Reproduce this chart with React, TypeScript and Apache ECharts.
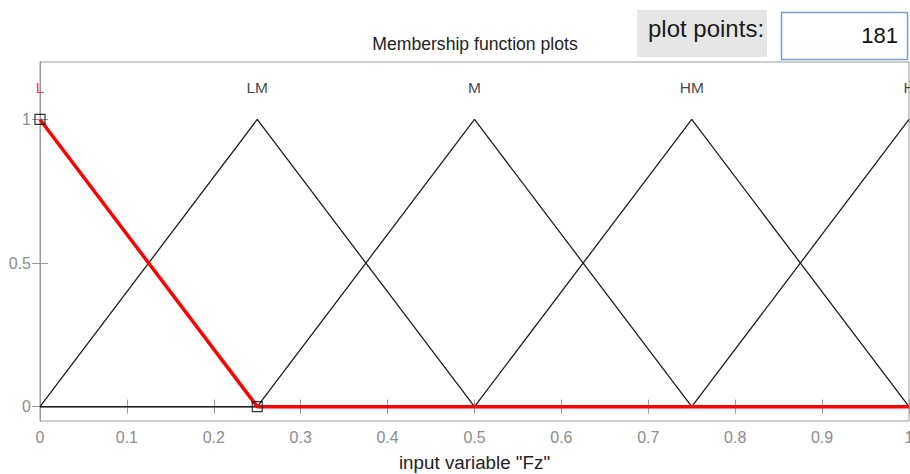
import React, { useEffect, useRef } from "react";
import * as echarts from "echarts";

// Membership function names and label positions
const mfNames = ["L", "LM", "M", "HM", "H"];
const mfPeaks = [0, 0.25, 0.5, 0.75, 1];
const mfLabelY = 1.11;

// Breakpoints of each membership function over the input range [0, 1]
const lX = [0, 0.25, 1];
const lY = [1, 0, 0];
const lmX = [0, 0.25, 0.5, 1];
const lmY = [0, 1, 0, 0];
const mX = [0, 0.25, 0.5, 0.75, 1];
const mY = [0, 0, 1, 0, 0];
const hmX = [0, 0.5, 0.75, 1];
const hmY = [0, 0, 1, 0];
const hX = [0, 0.75, 1];
const hY = [0, 0, 1];

// Selected MF (L) vertex handles
const handleX = [0, 0.25];
const handleY = [1, 0];

const yTicks = [0, 0.5, 1];
const plotPoints = "181";

const zip = (xs: number[], ys: number[]) => xs.map((x, i) => [x, ys[i]]);

export default function App() {
  const ref = useRef<HTMLDivElement>(null);
  useEffect(() => {
    document.body.style.margin = "0";
    const chart = echarts.init(ref.current!, null, { renderer: "svg" });
    const gray = "#9a9a9a";
    const labelGray = "#8c8c8c";
    const font = "Liberation Sans, Arial, sans-serif";
    const black = "#1e1e1e";
    const blackLine = (xs: number[], ys: number[]) => ({
      type: "line",
      data: zip(xs, ys),
      symbol: "none",
      lineStyle: { color: black, width: 1.3 },
      z: 3,
      silent: true,
    });
    chart.setOption({
      animation: false,
      backgroundColor: "#ffffff",
      textStyle: { fontFamily: font },
      grid: {
        left: 40,
        right: 1,
        top: 62,
        bottom: 53,
        containLabel: false,
        outerBoundsMode: "none",
        show: true,
        borderColor: gray,
        borderWidth: 1,
        backgroundColor: "#ffffff",
      },
      xAxis: [
        {
          type: "value",
          min: 0,
          max: 1,
          interval: 0.1,
          position: "bottom",
          splitLine: { show: false },
          axisLine: { show: true, lineStyle: { color: gray } },
          axisTick: { show: true, inside: true, length: 7, lineStyle: { color: gray } },
          axisLabel: {
            color: labelGray,
            fontSize: 16,
            margin: 8,
            fontFamily: font,
            formatter: (v: number) => String(Math.round(v * 10) / 10),
          },
          name: 'input variable "Fz"',
          nameLocation: "middle",
          nameGap: 32,
          nameTextStyle: { color: "#222", fontSize: 18.8, fontFamily: font },
        },
        {
          type: "value",
          min: 0,
          max: 1,
          interval: 0.1,
          position: "top",
          splitLine: { show: false },
          axisLine: { show: true, lineStyle: { color: gray } },
          axisTick: { show: true, inside: true, length: 7, lineStyle: { color: gray } },
          axisLabel: { show: false },
        },
      ],
      yAxis: [
        {
          type: "value",
          min: -0.05,
          max: 1.2,
          position: "left",
          splitLine: { show: false },
          axisLine: { show: true, lineStyle: { color: gray } },
          axisTick: {
            show: true,
            inside: true,
            length: 8,
            customValues: yTicks,
            lineStyle: { color: gray },
          },
          axisLabel: {
            color: labelGray,
            fontSize: 16,
            margin: 9,
            fontFamily: font,
            customValues: yTicks,
          },
        },
        {
          type: "value",
          min: -0.05,
          max: 1.2,
          position: "right",
          splitLine: { show: false },
          axisLine: { show: true, lineStyle: { color: gray } },
          axisTick: {
            show: true,
            inside: true,
            length: 8,
            customValues: yTicks,
            lineStyle: { color: gray },
          },
          axisLabel: { show: false },
        },
      ],
      series: [
        blackLine(hX, hY),
        blackLine(hmX, hmY),
        blackLine(mX, mY),
        blackLine(lmX, lmY),
        {
          type: "line",
          data: zip(lX, lY),
          symbol: "none",
          lineStyle: { color: "#ff0000", width: 3.5 },
          z: 5,
          silent: true,
        },
        {
          type: "scatter",
          data: zip(handleX, handleY),
          symbol: "rect",
          symbolSize: 10,
          itemStyle: { color: "rgba(0,0,0,0)", borderColor: "#000", borderWidth: 1.2 },
          z: 6,
          silent: true,
        },
        {
          type: "scatter",
          data: mfNames.map((n, i) => ({
            value: [mfPeaks[i], mfLabelY],
            name: n,
            label: { color: i === 0 ? "#ff0000" : "#111" },
          })),
          symbolSize: 0,
          z: 7,
          silent: true,
          label: {
            show: true,
            position: "inside",
            formatter: (p: any) => p.name,
            fontSize: 15.5,
            fontFamily: font,
            align: "center",
            verticalAlign: "middle",
          },
        },
      ],
      graphic: [
        {
          type: "text",
          x: 475,
          y: 44,
          style: {
            text: "Membership function plots",
            fontSize: 17.6,
            fontFamily: font,
            fill: "#222",
            align: "center",
            verticalAlign: "middle",
          },
        },
        {
          type: "rect",
          shape: { x: 637, y: 10, width: 130, height: 47 },
          style: { fill: "#e6e6e6" },
        },
        {
          type: "text",
          x: 706,
          y: 28,
          style: {
            text: "plot points:",
            fontSize: 24,
            fontFamily: font,
            fill: "#1a1a1a",
            align: "center",
            verticalAlign: "middle",
          },
        },
        {
          type: "rect",
          shape: { x: 781.5, y: 12.5, width: 126, height: 47 },
          style: { fill: "#ffffff", stroke: "#7a9cc6", lineWidth: 1.5 },
        },
        {
          type: "text",
          x: 898,
          y: 35,
          style: {
            text: plotPoints,
            fontSize: 22,
            fontFamily: font,
            fill: "#111",
            align: "right",
            verticalAlign: "middle",
          },
        },
      ],
    });
    return () => chart.dispose();
  }, []);
  return (
    <div
      ref={ref}
      style={{ position: "fixed", left: 0, top: 0, width: 910, height: 474, background: "#fff" }}
    />
  );
}
